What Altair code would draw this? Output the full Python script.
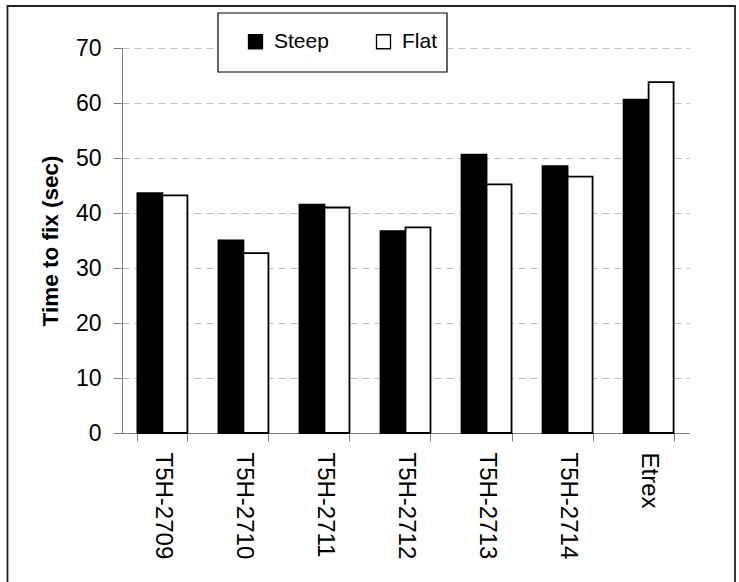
import altair as alt
import pandas as pd

models = ["T5H-2709", "T5H-2710", "T5H-2711", "T5H-2712", "T5H-2713", "T5H-2714", "Etrex"]
series = ["Steep", "Flat"]
steep = [43.6, 35.0, 41.5, 36.7, 50.6, 48.5, 60.6]
flat = [43.2, 32.7, 41.0, 37.4, 45.2, 46.6, 63.8]

rows = []
for m, s, f in zip(models, steep, flat):
    rows.append({"model": m, "series": "Steep", "value": s})
    rows.append({"model": m, "series": "Flat", "value": f})
df = pd.DataFrame(rows)

FONT = "Liberation Sans"
W, H = 567, 385

bars = alt.Chart(df).mark_bar(stroke="black", strokeWidth=1.8, strokeJoin="miter").encode(
    x=alt.X(
        "model:N",
        sort=models,
        scale=alt.Scale(paddingInner=0.383, paddingOuter=0.19),
        axis=alt.Axis(
            title=None,
            labelAngle=90,
            labelFontSize=24,
            labelFont=FONT,
            labelColor="black",
            labelPadding=11,
            tickBand="extent",
            tickSize=8,
            tickColor="#808080",
            domainColor="#808080",
            grid=False,
        ),
    ),
    xOffset=alt.XOffset("series:N", sort=series, scale=alt.Scale(paddingInner=0, paddingOuter=0)),
    y=alt.Y(
        "value:Q",
        scale=alt.Scale(domain=[0, 70], nice=False),
        axis=alt.Axis(
            title="Time to fix (sec)",
            titleFont=FONT,
            titleFontSize=22.5,
            titleFontWeight="bold",
            titleColor="black",
            titlePadding=13,
            values=[0, 10, 20, 30, 40, 50, 60, 70],
            labelFontSize=23,
            labelFont=FONT,
            labelColor="black",
            labelPadding=12,
            tickSize=9,
            tickColor="#808080",
            domainColor="#808080",
            gridColor="#bdbdbd",
            gridDash=[7, 5],
            gridWidth=1,
        ),
    ),
    fill=alt.Fill(
        "series:N",
        sort=series,
        scale=alt.Scale(domain=series, range=["black", "white"]),
        legend=alt.Legend(
            title=None,
            orient="none",
            legendX=123,
            legendY=-17,
            direction="horizontal",
            symbolType="square",
            symbolSize=196,
            symbolStrokeColor="black",
            symbolStrokeWidth=1.3,
            labelFont=FONT,
            labelFontSize=21,
            labelColor="black",
            labelOffset=8,
            columnPadding=44,
            padding=0,
        ),
    ),
)

# legend frame and outer chart frame
legend_box = alt.Chart().mark_rect(fill="white", stroke="black", strokeWidth=1.2).encode(
    x=alt.value(96), x2=alt.value(325), y=alt.value(-35), y2=alt.value(24)
)
frame = alt.Chart().mark_rect(fill=None, stroke="#222222", strokeWidth=1.8).encode(
    x=alt.value(-114.5), x2=alt.value(613), y=alt.value(-42), y2=alt.value(560)
)

chart = alt.layer(frame, bars, legend_box).properties(
    width=W,
    height=H,
    padding={"left": 122, "top": 48, "right": 50, "bottom": 149},
    autosize=alt.AutoSizeParams(type="none"),
    background="white",
).configure_view(stroke=None)

chart.save("out.html", embed_options={"renderer": "svg", "actions": False})
